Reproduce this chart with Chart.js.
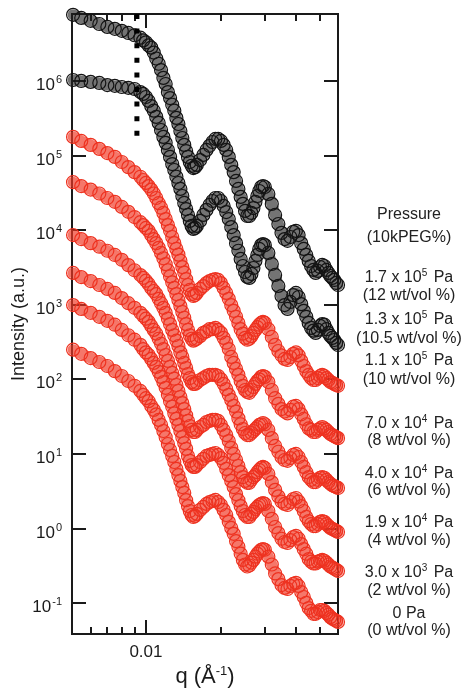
<!DOCTYPE html>
<html lang="en">
<head>
<meta charset="UTF-8" />
<title>SAXS vs osmotic pressure</title>
<script src="https://cdn.jsdelivr.net/npm/chart.js"></script>
<style>
  body { margin: 0; background: #fff; font-family: "Liberation Sans", Arial, sans-serif; }
  #wrap { position: relative; width: 475px; height: 690px; }
  .lbl {
    position: absolute; left: 345px; width: 128px;
    text-align: center; font-size: 16px; line-height: 18px;
    color: #222; white-space: nowrap;
  }
  .lbl sup { font-size: 10px; vertical-align: 6px; line-height: 0; margin-right: 2px; }
</style>
</head>
<body>
<div id="wrap">
  <canvas id="saxs"></canvas>
  <div class="lbl" style="top:205px">Pressure</div>
  <div class="lbl" style="top:228px">(10kPEG%)</div>
  <div class="lbl" style="top:268px">1.7 x 10<sup>5</sup> Pa</div>
  <div class="lbl" style="top:286px">(12 wt/vol %)</div>
  <div class="lbl" style="top:310px">1.3 x 10<sup>5</sup> Pa</div>
  <div class="lbl" style="top:329px">(10.5 wt/vol %)</div>
  <div class="lbl" style="top:351px">1.1 x 10<sup>5</sup> Pa</div>
  <div class="lbl" style="top:370px">(10 wt/vol %)</div>
  <div class="lbl" style="top:414px">7.0 x 10<sup>4</sup> Pa</div>
  <div class="lbl" style="top:431px">(8 wt/vol %)</div>
  <div class="lbl" style="top:464px">4.0 x 10<sup>4</sup> Pa</div>
  <div class="lbl" style="top:481px">(6 wt/vol %)</div>
  <div class="lbl" style="top:513px">1.9 x 10<sup>4</sup> Pa</div>
  <div class="lbl" style="top:531px">(4 wt/vol %)</div>
  <div class="lbl" style="top:563px">3.0 x 10<sup>3</sup> Pa</div>
  <div class="lbl" style="top:581px">(2 wt/vol %)</div>
  <div class="lbl" style="top:604px">0 Pa</div>
  <div class="lbl" style="top:621px">(0 wt/vol %)</div>
</div>

<script>
// scattering vector q (1/Å)
const qValues = [
  0.0051, 0.0055, 0.006, 0.0065, 0.007, 0.0075, 0.008, 0.0085, 0.009, 0.0095,
  0.00975, 0.01, 0.01025, 0.0105, 0.01075, 0.011, 0.01125, 0.0115, 0.01175, 0.012,
  0.01225, 0.0125, 0.01275, 0.013, 0.01325, 0.0135, 0.01375, 0.014, 0.01425, 0.0145,
  0.01475, 0.015, 0.01525, 0.0155, 0.01575, 0.016, 0.0165, 0.017, 0.0175, 0.018,
  0.0185, 0.019, 0.0195, 0.02, 0.0205, 0.021, 0.0215, 0.022, 0.0225, 0.023,
  0.0235, 0.024, 0.0245, 0.025, 0.0255, 0.026, 0.0265, 0.027, 0.0275, 0.028,
  0.0285, 0.029, 0.0295, 0.03, 0.031, 0.032, 0.033, 0.034, 0.035, 0.036,
  0.037, 0.038, 0.039, 0.04, 0.041, 0.042, 0.043, 0.044, 0.045, 0.046,
  0.047, 0.048, 0.049, 0.05, 0.051, 0.052, 0.053, 0.054, 0.055, 0.056,
  0.057, 0.058, 0.059
];

// intensity (a.u.), one array per 10k PEG concentration
const peg12 = [
  7.7e6, 7.0e6, 6.4e6, 5.8e6, 5.3e6, 5.0e6, 4.7e6, 4.4e6, 4.1e6, 3.8e6,
  3.5e6, 3.3e6, 3.0e6, 2.8e6, 2.4e6, 2.0e6, 1.7e6, 1.4e6, 1.1e6, 9.1e5,
  7.1e5, 5.9e5, 4.8e5, 4.0e5, 3.2e5, 2.65e5, 2.14e5, 1.72e5, 1.39e5, 1.15e5,
  9.6e4, 8.2e4, 7.3e4, 6.8e4, 7.0e4, 7.5e4, 8.7e4, 1.02e5, 1.19e5, 1.35e5,
  1.52e5, 1.67e5, 1.67e5, 1.57e5, 1.39e5, 1.19e5, 9.6e4, 7.5e4, 6.0e4, 4.57e4,
  3.57e4, 2.79e4, 2.25e4, 1.81e4, 1.55e4, 1.55e4, 1.70e4, 1.98e4, 2.39e4, 2.87e4,
  3.35e4, 3.79e4, 3.91e4, 3.79e4, 3.06e4, 2.25e4, 1.60e4, 1.21e4, 9.2e3, 7.6e3,
  7.2e3, 8.1e3, 9.5e3, 9.8e3, 8.6e3, 6.7e3, 5.6e3, 4.65e3, 3.87e3, 3.31e3,
  2.93e3, 2.67e3, 2.84e3, 3.21e3, 3.42e3, 3.31e3, 2.93e3, 2.67e3, 2.43e3, 2.29e3,
  2.15e3, 1.96e3, 1.84e3
];
const peg105 = [
  1.03e6, 1.0e6, 9.7e5, 9.4e5, 8.8e5, 8.6e5, 8.3e5, 8.1e5, 7.8e5, 7.1e5,
  6.7e5, 6.1e5, 5.4e5, 4.6e5, 4.0e5, 3.3e5, 2.74e5, 2.20e5, 1.78e5, 1.48e5,
  1.19e5, 9.6e4, 7.7e4, 6.4e4, 5.2e4, 4.29e4, 3.57e4, 2.87e4, 2.32e4, 1.92e4,
  1.60e4, 1.33e4, 1.14e4, 1.04e4, 1.07e4, 1.14e4, 1.33e4, 1.60e4, 1.87e4, 2.18e4,
  2.46e4, 2.70e4, 2.70e4, 2.46e4, 2.11e4, 1.75e4, 1.41e4, 1.10e4, 8.6e3, 6.7e3,
  5.3e3, 4.11e3, 3.31e3, 2.75e3, 2.36e3, 2.29e3, 2.59e3, 3.11e3, 3.87e3, 4.65e3,
  5.6e3, 6.3e3, 6.5e3, 6.3e3, 4.95e3, 3.52e3, 2.51e3, 1.79e3, 1.31e3, 990,
  880, 1.09e3, 1.35e3, 1.44e3, 1.27e3, 1.02e3, 830, 690, 570, 490,
  450, 419, 460, 520, 550, 540, 470, 419, 382, 359,
  337, 308, 289
];
const peg10 = [
  1.78e5, 1.57e5, 1.39e5, 1.23e5, 1.08e5, 9.6e4, 8.2e4, 7.0e4, 6.0e4, 5.2e4,
  4.7e4, 4.3e4, 3.9e4, 3.5e4, 3.1e4, 2.7e4, 2.3e4, 2.0e4, 1.7e4, 1.41e4,
  1.17e4, 9.8e3, 8.1e3, 6.7e3, 5.6e3, 4.7e3, 3.9e3, 3.2e3, 2.7e3, 2.2e3,
  1.84e3, 1.58e3, 1.39e3, 1.31e3, 1.35e3, 1.44e3, 1.63e3, 1.78e3, 1.95e3, 2.08e3,
  2.15e3, 2.2e3, 2.15e3, 1.95e3, 1.68e3, 1.44e3, 1.20e3, 990, 830, 690,
  570, 470, 410, 360, 340, 350, 380, 420, 460, 500,
  540, 570, 590, 570, 470, 370, 290, 240, 210, 188,
  182, 199, 220, 230, 210, 177, 151, 129, 115, 104,
  98, 98, 104, 111, 115, 111, 104, 98, 92, 90,
  87, 84, 82
];
const peg8 = [
  4.4e4, 3.9e4, 3.5e4, 3.1e4, 2.7e4, 2.4e4, 2.05e4, 1.76e4, 1.50e4, 1.28e4,
  1.17e4, 1.07e4, 9.8e3, 8.6e3, 7.6e3, 6.7e3, 5.8e3, 4.95e3, 4.2e3, 3.5e3,
  2.9e3, 2.4e3, 2.0e3, 1.68e3, 1.39e3, 1.16e3, 960, 800, 670, 550,
  460, 390, 350, 330, 340, 350, 380, 420, 440, 470,
  470, 490, 460, 420, 360, 310, 255, 200, 166, 138,
  115, 95, 82, 72, 68, 66, 72, 79, 87, 95,
  100, 108, 111, 108, 92, 72, 56, 47, 40, 37,
  35, 39, 43, 44, 40, 34, 29.5, 25, 22, 21,
  19.7, 19.7, 21, 22, 23, 22, 21, 19.7, 18.5, 17.9,
  17.3, 16.8, 16.3
];
const peg6 = [
  8.6e3, 7.6e3, 6.7e3, 6.0e3, 5.3e3, 4.65e3, 4.0e3, 3.4e3, 2.9e3, 2.5e3,
  2.3e3, 2.1e3, 1.9e3, 1.68e3, 1.53e3, 1.39e3, 1.2e3, 1.05e3, 910, 780,
  650, 550, 460, 390, 330, 280, 230, 200, 166, 142,
  118, 104, 92, 87, 87, 90, 98, 104, 111, 115,
  115, 115, 111, 100, 87, 74, 62, 53, 44, 37,
  30, 25, 21.6, 19.1, 17.9, 17.9, 19.1, 20.3, 21.6, 23,
  24.5, 25, 26, 25, 21, 16.3, 12.8, 10.7, 9.1, 8.3,
  8.1, 8.8, 9.7, 10, 9.1, 7.8, 6.7, 5.7, 4.9, 4.5,
  4.2, 4.2, 4.5, 4.8, 4.9, 4.8, 4.5, 4.2, 4.0, 3.8,
  3.7, 3.6, 3.5
];
const peg4 = [
  2.67e3, 2.35e3, 2.08e3, 1.84e3, 1.63e3, 1.44e3, 1.23e3, 1.05e3, 910, 780,
  710, 650, 590, 520, 460, 410, 350, 300, 255, 212,
  177, 147, 122, 102, 84, 70, 58, 48, 40, 33,
  27.7, 23.7, 21, 19.7, 19.7, 21, 23, 24.5, 26.8, 27.7,
  28.6, 28.6, 27.7, 24.5, 21, 17.9, 14.9, 12.1, 10, 8.3,
  6.9, 5.7, 4.9, 4.35, 4.1, 4.1, 4.5, 4.9, 5.2, 5.7,
  6.1, 6.5, 6.7, 6.5, 5.4, 4.2, 3.3, 2.7, 2.3, 2.14,
  2.07, 2.27, 2.49, 2.57, 2.3, 2.0, 1.72, 1.43, 1.26, 1.15,
  1.08, 1.08, 1.15, 1.23, 1.26, 1.23, 1.15, 1.08, 1.02, 0.99,
  0.96, 0.93, 0.90
];
const peg2 = [
  990, 880, 780, 690, 610, 540, 460, 390, 340, 290,
  255, 230, 212, 188, 166, 147, 126, 108, 92, 77,
  62, 51, 43, 35, 29.5, 24.5, 20.3, 16.8, 14, 11.7,
  9.4, 8.1, 7.1, 6.7, 6.7, 7.1, 7.8, 8.6, 9.4, 9.7,
  10, 10.3, 9.7, 8.8, 7.6, 6.3, 5.2, 4.35, 3.6, 2.9,
  2.4, 2.0, 1.72, 1.52, 1.43, 1.43, 1.57, 1.67, 1.83, 1.95,
  2.07, 2.14, 2.2, 2.14, 1.72, 1.35, 1.05, 0.87, 0.73, 0.66,
  0.64, 0.70, 0.77, 0.80, 0.73, 0.62, 0.53, 0.46, 0.39, 0.36,
  0.34, 0.34, 0.36, 0.37, 0.38, 0.37, 0.35, 0.33, 0.31, 0.30,
  0.29, 0.28, 0.27
];
const peg0 = [
  250, 220, 193, 171, 151, 129, 111, 95, 82, 70,
  62, 56, 51, 44, 39, 34, 28.6, 24.5, 20.3, 16.8,
  13.6, 11.3, 9.4, 7.8, 6.3, 5.2, 4.35, 3.6, 3.0, 2.4,
  2.0, 1.72, 1.52, 1.43, 1.48, 1.57, 1.78, 1.95, 2.14, 2.27,
  2.34, 2.42, 2.27, 2.07, 1.78, 1.52, 1.23, 1.02, 0.85, 0.68,
  0.57, 0.46, 0.38, 0.33, 0.31, 0.32, 0.35, 0.38, 0.42, 0.46,
  0.49, 0.52, 0.53, 0.52, 0.42, 0.33, 0.25, 0.21, 0.175, 0.16,
  0.155, 0.17, 0.181, 0.187, 0.17, 0.141, 0.121, 0.101, 0.086, 0.079,
  0.072, 0.072, 0.076, 0.081, 0.081, 0.079, 0.074, 0.07, 0.065, 0.062,
  0.06, 0.058, 0.056
];

// dotted guide at the low-q shoulder
const guideQ = 0.0092;
const guideSpan = [7.9e6, 1.83e5];

// axis ticks
const yTicks = [1e-1, 1e0, 1e1, 1e2, 1e3, 1e4, 1e5, 1e6];
const yExps = ['-1', '0', '1', '2', '3', '4', '5', '6'];
const xMajor = [0.01];
const xMinor = [0.006, 0.007, 0.008, 0.009, 0.02, 0.03, 0.04, 0.05];

const FONT = '"Liberation Sans", Arial, sans-serif';

// ring colour + the denser band the overlapping rings make
const curves = [
  { values: peg12, ring: 'rgb(20,20,20)', band: 'rgba(30,30,30,0.62)' },
  { values: peg105, ring: 'rgb(20,20,20)', band: 'rgba(30,30,30,0.62)' },
  { values: peg10, ring: 'rgb(238,50,32)', band: 'rgba(240,55,35,0.68)' },
  { values: peg8, ring: 'rgb(238,50,32)', band: 'rgba(240,55,35,0.68)' },
  { values: peg6, ring: 'rgb(238,50,32)', band: 'rgba(240,55,35,0.68)' },
  { values: peg4, ring: 'rgb(238,50,32)', band: 'rgba(240,55,35,0.68)' },
  { values: peg2, ring: 'rgb(238,50,32)', band: 'rgba(240,55,35,0.68)' },
  { values: peg0, ring: 'rgb(238,50,32)', band: 'rgba(240,55,35,0.68)' }
];

const datasets = curves.map(c => ({
  data: qValues.map((q, i) => ({ x: q, y: c.values[i] })),
  showLine: true,
  borderColor: c.band,
  borderWidth: 11,
  borderJoinStyle: 'round',
  borderCapStyle: 'round',
  tension: 0,
  pointStyle: 'circle',
  pointRadius: 6.5,
  pointBorderWidth: 1.2,
  pointBorderColor: c.ring,
  pointBackgroundColor: 'rgba(0,0,0,0)',
  clip: false,
  order: 1
}));

datasets.push({
  data: guideSpan.map(v => ({ x: guideQ, y: v })),
  showLine: true,
  borderColor: '#000',
  borderWidth: 5,
  borderDash: [5, 9.6],
  borderCapStyle: 'butt',
  pointRadius: 0,
  clip: false,
  order: 0
});

// frame, inward ticks, tick labels and axis titles
const axesPlugin = {
  id: 'axesPlugin',
  beforeDatasetsDraw(chart) {
    const { ctx, chartArea: a } = chart;
    const x = chart.scales.x, y = chart.scales.y;
    ctx.save();
    ctx.strokeStyle = '#1a1a1a';
    ctx.lineWidth = 2;
    ctx.strokeRect(a.left, a.top, a.right - a.left, a.bottom - a.top);

    ctx.beginPath();
    yTicks.forEach(v => {
      const py = Math.round(y.getPixelForValue(v));
      ctx.moveTo(a.left, py); ctx.lineTo(a.left + 14, py);
      ctx.moveTo(a.right, py); ctx.lineTo(a.right - 14, py);
    });
    const xTick = (v, len) => {
      const px = Math.round(x.getPixelForValue(v));
      ctx.moveTo(px, a.bottom); ctx.lineTo(px, a.bottom - len);
      ctx.moveTo(px, a.top); ctx.lineTo(px, a.top + len);
    };
    xMajor.forEach(v => xTick(v, 14));
    xMinor.forEach(v => xTick(v, 7));
    ctx.stroke();

    ctx.fillStyle = '#1a1a1a';
    // y tick labels as 10 with a raised exponent
    yTicks.forEach((v, i) => {
      const py = y.getPixelForValue(v);
      ctx.font = '11px ' + FONT;
      const ew = ctx.measureText(yExps[i]).width;
      ctx.textAlign = 'left';
      ctx.textBaseline = 'alphabetic';
      ctx.fillText(yExps[i], 62 - ew, py + 2);
      ctx.font = '17px ' + FONT;
      ctx.textAlign = 'right';
      ctx.fillText('10', 62 - ew - 1, py + 9);
    });

    ctx.font = '17px ' + FONT;
    ctx.textAlign = 'center';
    xMajor.forEach(v => ctx.fillText('0.01', x.getPixelForValue(v), 657));

    // x title: q (Å^-1)
    const cx = (a.left + a.right) / 2;
    ctx.font = '22px ' + FONT;
    const w1 = ctx.measureText('q (Å').width;
    const w3 = ctx.measureText(')').width;
    ctx.font = '13px ' + FONT;
    const w2 = ctx.measureText('-1').width;
    const sx = cx - (w1 + w2 + w3) / 2;
    ctx.textAlign = 'left';
    ctx.font = '22px ' + FONT;
    ctx.fillText('q (Å', sx, 683);
    ctx.font = '13px ' + FONT;
    ctx.fillText('-1', sx + w1, 675);
    ctx.font = '22px ' + FONT;
    ctx.fillText(')', sx + w1 + w2, 683);

    // y title
    ctx.translate(19, (a.top + a.bottom) / 2);
    ctx.rotate(-Math.PI / 2);
    ctx.font = '18px ' + FONT;
    ctx.textAlign = 'center';
    ctx.textBaseline = 'middle';
    ctx.fillText('Intensity (a.u.)', 0, 0);
    ctx.restore();
  }
};

new Chart(document.getElementById('saxs'), {
  type: 'scatter',
  data: { datasets },
  options: {
    responsive: true,
    maintainAspectRatio: false,
    animation: false,
    layout: { padding: { top: 14, right: 137, left: 0, bottom: 0 } },
    plugins: { legend: { display: false }, tooltip: { enabled: false } },
    scales: {
      x: {
        type: 'logarithmic', min: 0.00505, max: 0.059,
        grid: { display: false }, border: { display: false },
        ticks: { display: false },
        afterFit: s => { s.height = 56; }
      },
      y: {
        type: 'logarithmic', min: 0.0386, max: 7.9e6,
        grid: { display: false }, border: { display: false },
        ticks: { display: false },
        afterFit: s => { s.width = 72; }
      }
    }
  },
  plugins: [axesPlugin]
});
</script>
</body>
</html>
